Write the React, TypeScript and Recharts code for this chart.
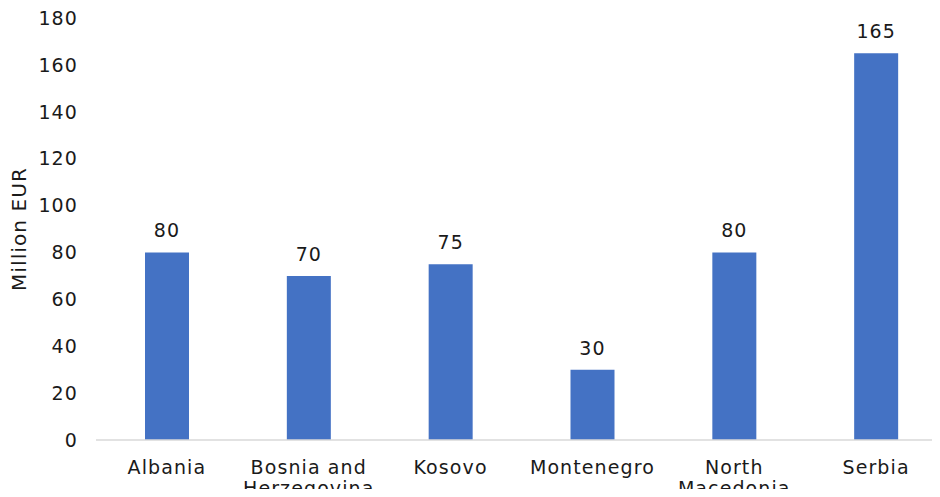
import { Bar, BarChart, LabelList, XAxis, YAxis } from "recharts";

// Funding by country, million EUR
const countries = ["Albania", "Bosnia and Herzegovina", "Kosovo", "Montenegro", "North Macedonia", "Serbia"];
const tickLines = [["Albania"], ["Bosnia and", "Herzegovina"], ["Kosovo"], ["Montenegro"], ["North", "Macedonia"], ["Serbia"]];
const amounts = [80, 70, 75, 30, 80, 165];
const yTicks = [0, 20, 40, 60, 80, 100, 120, 140, 160, 180];

const data = countries.map((c, i) => ({ country: c, amount: amounts[i] }));

const FONT = "'DejaVu Sans', sans-serif";
const INK = "#1a1a1a";
const SPACING = 1.1;

function CountryTick(props: any) {
  const { x, y, index } = props;
  const lines = tickLines[index] ?? [String(props.payload?.value ?? "")];
  return (
    <text x={x} y={y} textAnchor="middle" fill={INK} fontSize={19} fontFamily={FONT} letterSpacing={SPACING}>
      {lines.map((l, i) => (
        <tspan key={i} x={x} dy={i === 0 ? 26 : 21}>
          {l}
        </tspan>
      ))}
    </text>
  );
}

export default function App() {
  return (
    <div style={{ margin: -8, width: 940, height: 497, overflow: "hidden" }}>
      <BarChart width={960} height={497} data={data} margin={{ top: 18, right: 13, bottom: 0, left: 0 }} barSize={44}>
        <XAxis
          dataKey="country"
          height={57}
          tickLine={false}
          axisLine={{ stroke: "#d9d9d9", strokeWidth: 1.5 }}
          tick={<CountryTick />}
          interval={0}
        />
        <YAxis
          width={96}
          domain={[0, 180]}
          ticks={yTicks}
          axisLine={false}
          tickLine={false}
          tickSize={0}
          tickMargin={18}
          tick={{ fill: INK, fontSize: 19, fontFamily: FONT, letterSpacing: SPACING }}
          label={{
            value: "Million EUR",
            angle: -90,
            position: "insideLeft",
            dx: 14,
            dy: 0,
            style: { textAnchor: "middle", fill: INK, fontSize: 20, fontFamily: FONT, letterSpacing: SPACING },
          }}
        />
        <Bar dataKey="amount" fill="#4472C4" isAnimationActive={false}>
          <LabelList
            dataKey="amount"
            position="top"
            offset={15}
            fill={INK}
            fontSize={19}
            fontFamily={FONT}
            letterSpacing={SPACING}
          />
        </Bar>
      </BarChart>
    </div>
  );
}
